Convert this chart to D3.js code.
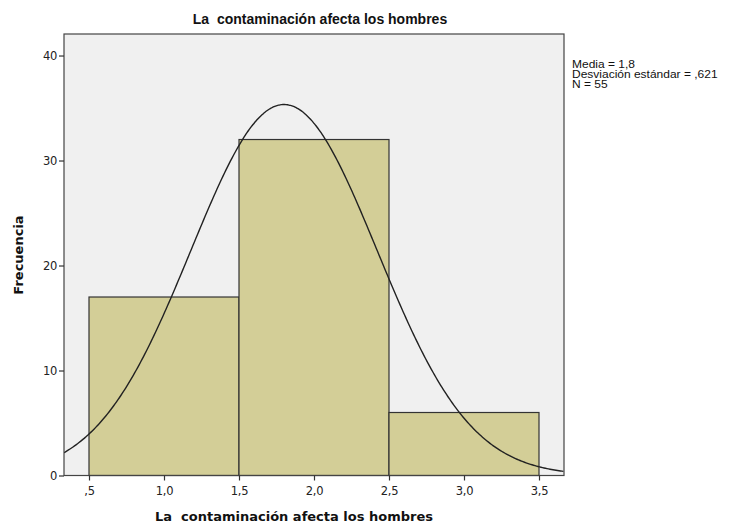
<!DOCTYPE html>
<html><head><meta charset="utf-8">
<script src="https://cdn.jsdelivr.net/npm/d3@7"></script>
<style>body{margin:0;background:#fff;} svg{display:block;font-family:"Liberation Sans",Arial,sans-serif;} text{white-space:pre;}</style>
</head><body>
<svg id="c" width="734" height="525"></svg>
<script>
const binStarts = [0.5, 1.5, 2.5];
const binEnds = [1.5, 2.5, 3.5];
const counts = [17, 32, 6];
const xTicks = [0.5, 1.0, 1.5, 2.0, 2.5, 3.0, 3.5];
const yTicks = [0, 10, 20, 30, 40];
const statMean = 1.8, statSd = 0.621, statN = 55;
const legendLines = ["Media = 1,8", "Desviación estándar = ,621", "N = 55"];
const title = "La  contaminación afecta los hombres";
const xLabel = "La  contaminación afecta los hombres";
const yLabel = "Frecuencia";

const svg = d3.select("#c");
const L = 64, R = 564, T = 34, B = 475.5;
const x = d3.scaleLinear().domain([1/3, 11/3]).range([L, R]);
const y = d3.scaleLinear().domain([0, 42.05]).range([B, T]);

svg.append("rect").attr("x", L).attr("y", T).attr("width", R-L).attr("height", B-T).attr("fill", "#f0f0f0");

const defs = svg.append("defs");
defs.append("clipPath").attr("id","clip").append("rect").attr("x",L).attr("y",T).attr("width",R-L).attr("height",B-T);

svg.append("g").selectAll("rect").data(counts).join("rect")
  .attr("x", (d,i)=>x(binStarts[i]))
  .attr("y", d=>y(d))
  .attr("width", (d,i)=>x(binEnds[i])-x(binStarts[i]))
  .attr("height", d=>y(0)-y(d))
  .attr("fill", "#d3ce97").attr("stroke", "#333").attr("stroke-width", 1.2);

// normal curve from the stated mean, sd and N
const binW = 1;
const pts = d3.range(1/3, 11/3 + 0.001, 0.01).map(v => [v, statN*binW/(statSd*Math.sqrt(2*Math.PI))*Math.exp(-0.5*((v-statMean)/statSd)**2)]);
svg.append("path").attr("clip-path","url(#clip)").datum(pts)
  .attr("d", d3.line().x(d=>x(d[0])).y(d=>y(d[1])).curve(d3.curveBasis))
  .attr("fill","none").attr("stroke","#222").attr("stroke-width",1.4);

svg.append("rect").attr("x", L).attr("y", T).attr("width", R-L).attr("height", B-T).attr("fill","none").attr("stroke","#444").attr("stroke-width",1.2);

const fmt = v => { let s = d3.format(".1f")(v).replace(".", ","); if (s.startsWith("0,")) s = s.slice(1); return s; };
const xa = svg.append("g").attr("transform",`translate(0,${B})`).call(d3.axisBottom(x).tickValues(xTicks).tickFormat(fmt).tickSize(5).tickPadding(6));
const ya = svg.append("g").attr("transform",`translate(${L},0)`).call(d3.axisLeft(y).tickValues(yTicks).tickFormat(d3.format("d")).tickSize(5).tickPadding(2));
[xa, ya].forEach(a => { a.select(".domain").remove(); a.selectAll("line").attr("stroke","#333").attr("stroke-width",1.2); a.selectAll("text").attr("font-size",11.5).attr("fill","#222").attr("font-family","DejaVu Sans, sans-serif").attr("font-weight","normal").style("letter-spacing","-0.3px"); });

svg.append("text").attr("x", 320).attr("y", 24).attr("text-anchor","middle").attr("font-size",14).attr("font-weight","bold").attr("fill","#111").text(title);
svg.append("text").attr("x", 294).attr("y", 521).attr("text-anchor","middle").attr("font-size",13).attr("font-weight","bold").attr("font-family","DejaVu Sans, sans-serif").attr("fill","#111").text(xLabel);
svg.append("text").attr("transform","translate(23,255) rotate(-90)").attr("text-anchor","middle").attr("font-size",13).attr("font-weight","bold").attr("font-family","DejaVu Sans, sans-serif").attr("fill","#111").text(yLabel);

svg.append("g").selectAll("text").data(legendLines).join("text")
  .attr("transform", (d,i)=>`translate(572,${67.5 + i*10}) scale(1.2,1)`).attr("font-size",10).attr("fill","#111").text(d=>d);
</script>
</body></html>
